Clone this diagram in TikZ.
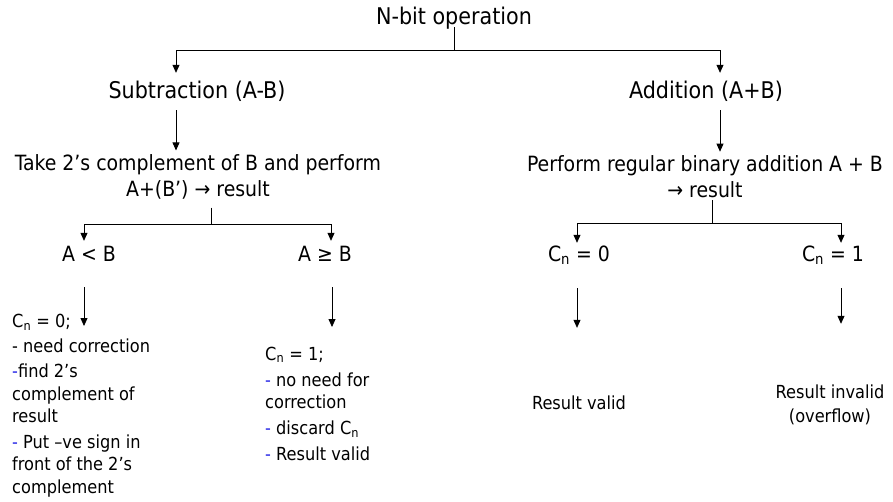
\documentclass[tikz,border=0pt]{standalone}
\usepackage{fontspec}
\setmainfont{DejaVu Sans Condensed}
\usetikzlibrary{arrows.meta}
\definecolor{dashblue}{RGB}{40,40,230}
\begin{document}
\begin{tikzpicture}[x=1pt,y=-1pt,
  head/.style={font=\fontsize{23}{27}\selectfont, inner sep=0pt, text height=17pt, text depth=5pt},
  mid/.style={font=\fontsize{21}{26}\selectfont, inner sep=0pt, align=center},
  midone/.style={mid, text height=15.5pt, text depth=4.5pt},
  low/.style={font=\fontsize{18}{22.5}\selectfont, inner sep=0pt, align=left},
  lowc/.style={font=\fontsize{18}{24}\selectfont, inner sep=0pt, align=center},
  conn/.style={line width=0.8pt},
  arr/.style={conn, -{Triangle[width=7pt,length=8pt]}}]
\useasboundingbox (0,0) rectangle (893,501);
% nodes
\node[head] (top) at (454,18) {N-bit operation};
\node[head] (sub) at (197,92) {Subtraction (A-B)};
\node[head] (add) at (706,92) {Addition (A+B)};
\node[mid] (take) at (198,177) {Take 2’s complement of B and perform\\A+(B’) → result};
\node[mid] (perf) at (705,177) {Perform regular binary addition A + B\\→ result};
\node[midone] (altb) at (89,256) {A < B};
\node[midone] (ageb) at (325,256) {A ≥ B};
\node[midone] (c0) at (579,256) {C\textsubscript{n} = 0};
\node[midone] (c1) at (833,256) {C\textsubscript{n} = 1};
\node[low, anchor=north west] (lt) at (12,314) {C\textsubscript{n} = 0;\\[2.5pt]
- need correction\\[2.5pt]
\textcolor{dashblue}{-}find 2’s\\ complement of\\ result\\[3pt]
\textcolor{dashblue}{-} Put –ve sign in\\ front of the 2’s\\ complement};
\node[low, anchor=north west] (mt) at (265,346.5) {C\textsubscript{n} = 1;\\[3.5pt]
\textcolor{dashblue}{-} no need for\\ correction\\[3.5pt]
\textcolor{dashblue}{-} discard C\textsubscript{n}\\[3.5pt]
\textcolor{dashblue}{-} Result valid};
\node[lowc] (rv) at (579,403) {Result valid};
\node[lowc] (ri) at (830,405) {Result invalid\\(overflow)};
% junctions
\coordinate (b1) at (454,50);
\coordinate (b2) at (211,224);
\coordinate (b3) at (712,223);
% connectors
\draw[conn] ([yshift=-9pt]top.center) -- (b1);
\draw[arr, shorten >=8pt] (b1) -| ([xshift=-21pt]sub.north);
\draw[arr, shorten >=8pt] (b1) -| ([xshift=14pt]add.north);
\draw[arr, shorten <=7pt, shorten >=4pt] ([xshift=-21pt]sub.south) -- ([xshift=-22pt]take.north);
\draw[arr, shorten <=7pt, shorten >=4pt] ([xshift=14pt]add.south) -- ([xshift=15pt]perf.north);
\draw[conn, shorten <=8pt] (take.south -| b2) -- (b2);
\draw[conn, shorten <=2pt] (perf.south -| b3) -- (b3);
\draw[arr, shorten >=5pt] (b2) -| ([xshift=-5pt]altb.north);
\draw[arr, shorten >=5pt] (b2) -| ([xshift=6pt]ageb.north);
\draw[arr, shorten >=3pt] (b3) -| ([xshift=-2pt]c0.north);
\draw[arr, shorten >=3pt] (b3) -| ([xshift=8pt]c1.north);
\draw[arr, shorten <=21pt, shorten >=-12pt] ([xshift=-5pt]altb.south) -- ([xshift=-5pt]altb.south |- lt.north);
\draw[arr, shorten <=21pt, shorten >=19.5pt] ([xshift=7pt]ageb.south) -- ([xshift=7pt]ageb.south |- mt.north);
\draw[arr, shorten <=22pt, shorten >=68pt] ([xshift=-2pt]c0.south) -- ([xshift=-2pt]c0.south |- rv.north);
\draw[arr, shorten <=22pt, shorten >=61pt] ([xshift=8pt]c1.south) -- ([xshift=8pt]c1.south |- ri.north);
\end{tikzpicture}
\end{document}
